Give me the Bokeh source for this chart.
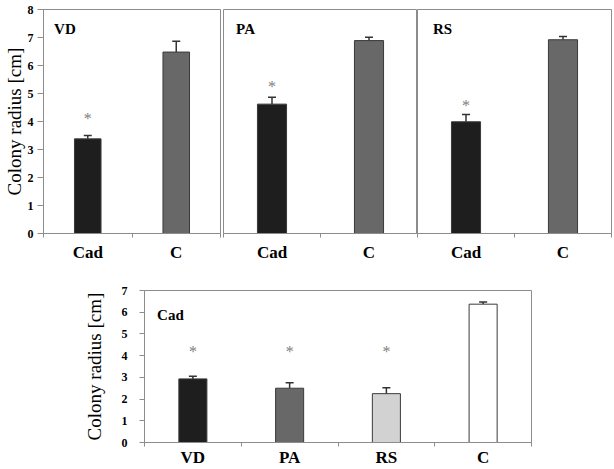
from bokeh.plotting import figure
from bokeh.models import ColumnDataSource, FixedTicker, Range1d, Whisker, TeeHead, Label, Spacer
from bokeh.layouts import column, row
from bokeh.core.properties import value
from bokeh.embed import file_html
from bokeh.resources import INLINE

# ---------------- data ----------------
top_categories = ["Cad", "C"]
top_colors = ["#1e1e1e", "#686868"]

vd_means = [3.38, 6.48]
vd_err = [0.12, 0.39]
vd_star = [4.1]

pa_means = [4.62, 6.89]
pa_err = [0.25, 0.12]
pa_star = [5.25]

rs_means = [3.99, 6.92]
rs_err = [0.26, 0.12]
rs_star = [4.56]

cad_categories = ["VD", "PA", "RS", "C"]
cad_colors = ["#1e1e1e", "#686868", "#d2d2d2", "#ffffff"]
cad_means = [2.93, 2.50, 2.25, 6.37]
cad_err = [0.12, 0.25, 0.27, 0.10]
cad_star = [4.2, 4.2, 4.2]

SERIF = "Liberation Serif"
AX = "#8c8c8c"


def panel(title, cats, means, errs, colors, stars, ymax, width, height,
          bl, br, bt, bb, show_y, bar_w, title_x, title_y,
          ytick_out=6, ytick_standoff=4, ylab_standoff=0, xlab_standoff=5):
    n = len(cats)
    p = figure(width=width, height=height, x_range=Range1d(0, n), y_range=Range1d(0, ymax),
               output_backend="svg", toolbar_location=None,
               min_border_left=bl, min_border_right=br, min_border_top=bt, min_border_bottom=bb,
               y_axis_location="left" if show_y else None)
    p.grid.visible = False
    p.outline_line_color = AX
    p.outline_line_width = 1
    p.background_fill_color = "white"
    p.border_fill_color = "white"

    xs = [i + 0.5 for i in range(n)]
    uppers = [m + e for m, e in zip(means, errs)]
    src = ColumnDataSource(dict(x=xs, top=means, upper=uppers, color=colors))
    p.vbar(x="x", top="top", width=bar_w, fill_color="color", line_color="#3a3a3a",
           line_width=1, source=src)
    p.add_layout(Whisker(base="x", lower="top", upper="upper", source=src, dimension="height",
                         line_color="#333333", line_width=1.5,
                         upper_head=TeeHead(size=8, line_color="#333333", line_width=1.5),
                         lower_head=None))
    p.text(x=xs[:len(stars)], y=stars, text=["*"] * len(stars), text_font=value(SERIF),
           text_font_size="16px", text_color="#808080", text_align="center",
           text_baseline="middle")

    p.add_layout(Label(x=title_x, y=title_y, text=title, text_font=SERIF,
                       text_font_size="15px", text_font_style="bold", text_color="black",
                       text_baseline="top"))

    xa = p.xaxis[0]
    xa.ticker = FixedTicker(ticks=xs, minor_ticks=list(range(n + 1)))
    xa.major_label_overrides = {x: c for x, c in zip(xs, cats)}
    xa.major_tick_out = 0
    xa.major_tick_in = 0
    xa.minor_tick_out = 4
    xa.minor_tick_in = 0
    xa.minor_tick_line_color = AX
    xa.axis_line_color = AX
    xa.major_label_text_font = SERIF
    xa.major_label_text_font_style = "bold"
    xa.major_label_text_font_size = "17px"
    xa.major_label_text_color = "black"
    xa.major_label_standoff = xlab_standoff

    if show_y:
        ya = p.yaxis[0]
        ya.ticker = FixedTicker(ticks=list(range(ymax + 1)))
        ya.minor_tick_line_color = None
        ya.major_tick_out = ytick_out
        ya.major_tick_in = 0
        ya.major_tick_line_color = AX
        ya.axis_line_color = AX
        ya.major_label_text_font = SERIF
        ya.major_label_text_font_style = "bold"
        ya.major_label_text_font_size = "12px"
        ya.major_label_text_color = "black"
        ya.major_label_standoff = ytick_standoff
        ya.axis_label = "Colony radius [cm]"
        ya.axis_label_text_font = SERIF
        ya.axis_label_text_font_style = "normal"
        ya.axis_label_text_font_size = "19px"
        ya.axis_label_text_color = "black"
        ya.axis_label_standoff = ylab_standoff
    return p


H_TOP = 265
H_BOT = 204
p1 = panel("VD", top_categories, vd_means, vd_err, top_colors, vd_star, 8, 222, H_TOP,
           42, 2, 9, 32, True, 0.30, 0.12, 7.6)
p2 = panel("PA", top_categories, pa_means, pa_err, top_colors, pa_star, 8, 195, H_TOP,
           1, 0, 9, 32, False, 0.30, 0.13, 7.6)
p3 = panel("RS", top_categories, rs_means, rs_err, top_colors, rs_star, 8, 196, H_TOP,
           0, 2, 9, 32, False, 0.30, 0.16, 7.6)
p4 = panel("Cad", cad_categories, cad_means, cad_err, cad_colors, cad_star, 7, 453, H_BOT,
           62, 2, 25, 27, True, 0.29, 0.13, 6.25,
           ytick_out=5, ytick_standoff=12, ylab_standoff=14, xlab_standoff=1)

layout = column(row(p1, p2, p3), row(Spacer(width=80, height=H_BOT), p4))

open("out.html", "w").write(file_html(layout, INLINE))
